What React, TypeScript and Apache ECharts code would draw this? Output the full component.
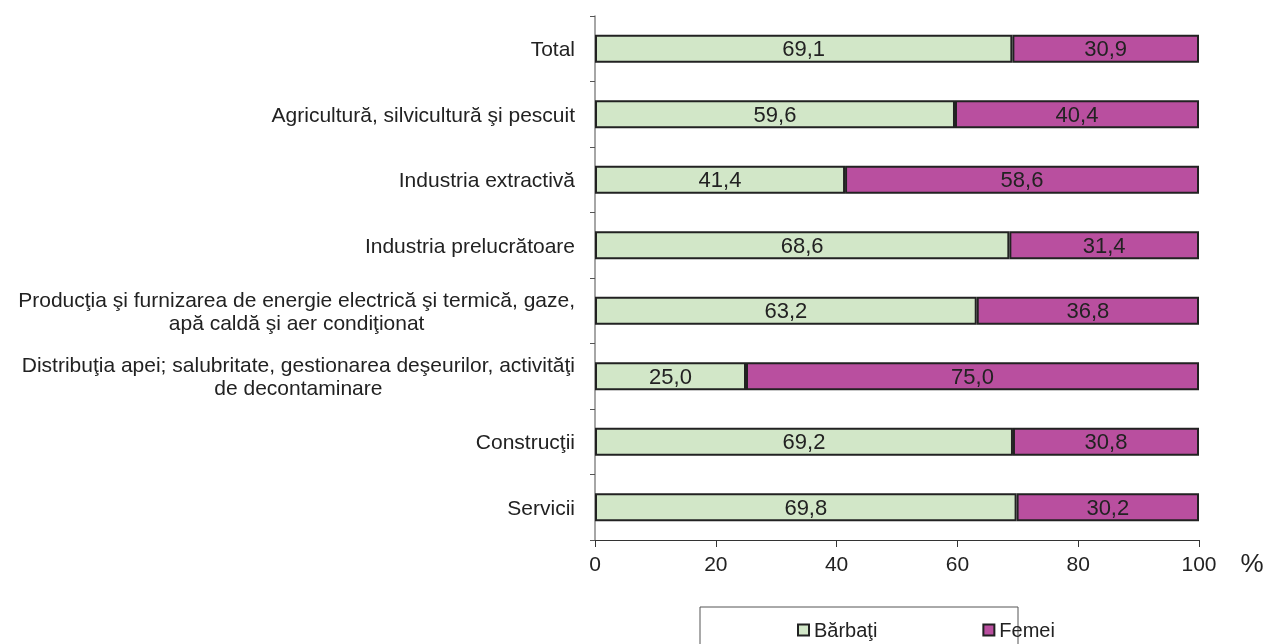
import React, { useEffect, useRef } from "react";
import * as echarts from "echarts";

const categories = [
  "Total",
  "Agricultură, silvicultură şi pescuit",
  "Industria extractivă",
  "Industria prelucrătoare",
  "Producţia şi furnizarea de energie electrică şi termică, gaze,\napă caldă şi aer condiţionat",
  "Distribuţia apei; salubritate, gestionarea deşeurilor, activităţi\nde decontaminare",
  "Construcţii",
  "Servicii",
];
const barbati = [69.1, 59.6, 41.4, 68.6, 63.2, 25.0, 69.2, 69.8];
const femei = [30.9, 40.4, 58.6, 31.4, 36.8, 75.0, 30.8, 30.2];
const seriesNames = ["Bărbaţi", "Femei"];

const FONT = "Liberation Sans, Arial, sans-serif";
const TXT = "#222";

export default function App() {
  const ref = useRef<HTMLDivElement>(null);
  useEffect(() => {
    if (!ref.current) return;
    const chart = echarts.init(ref.current, null, { renderer: "svg" });
    const fmt = (p: any) => Number(p.value).toFixed(1).replace(".", ",");
    const barCommon = {
      type: "bar",
      stack: "total",
      barCategoryGap: "57%",
      label: {
        show: true,
        position: "inside",
        formatter: fmt,
        fontSize: 22,
        fontFamily: FONT,
        color: TXT,
      },
    };
    chart.setOption({
      animation: false,
      textStyle: { fontFamily: FONT },
      grid: { left: 595, right: 68, top: 16, bottom: 104, containLabel: false },
      legend: {
        left: 797,
        top: 620,
        padding: 0,
        itemWidth: 11,
        itemHeight: 11,
        itemGap: 105,
        icon: "rect",
        itemStyle: { borderColor: "#222", borderWidth: 2 },
        textStyle: { fontSize: 20, lineHeight: 20, color: TXT, fontFamily: FONT },
        data: seriesNames,
      },
      xAxis: {
        type: "value",
        min: 0,
        max: 100,
        interval: 20,
        axisLine: { show: true, lineStyle: { color: "#333", width: 1 } },
        axisTick: { show: true, length: 7, lineStyle: { color: "#333" } },
        splitLine: { show: false },
        axisLabel: { fontSize: 21, margin: 13, color: TXT, fontFamily: FONT },
      },
      yAxis: {
        type: "category",
        inverse: true,
        data: categories,
        axisLine: { show: true, lineStyle: { color: "#888", width: 1.5 } },
        axisTick: { show: true, length: 5, lineStyle: { color: "#555" } },
        axisLabel: {
          margin: 20,
          color: TXT,
          fontSize: 21,
          fontFamily: FONT,
          lineHeight: 23,
          formatter: (v: string) =>
            v
              .split("\n")
              .map((l) => `{c|${l}}`)
              .join("\n"),
          rich: {
            c: { align: "center", fontSize: 21, lineHeight: 23, fontFamily: FONT, color: TXT },
          },
        },
      },
      graphic: [
        {
          type: "rect",
          shape: { x: 700, y: 607, width: 318, height: 60 },
          style: { fill: "none", stroke: "#555", lineWidth: 1 },
          silent: true,
        },
        {
          type: "text",
          x: 1252,
          y: 563,
          style: {
            text: "%",
            fontSize: 26,
            fontFamily: FONT,
            fill: TXT,
            align: "center",
            verticalAlign: "middle",
          },
        },
      ],
      series: [
        {
          ...barCommon,
          name: seriesNames[0],
          data: barbati,
          itemStyle: { color: "#d2e7c8", borderColor: "#222", borderWidth: 2 },
        },
        {
          ...barCommon,
          name: seriesNames[1],
          data: femei,
          itemStyle: { color: "#b94f9f", borderColor: "#222", borderWidth: 2 },
        },
      ],
    });
    return () => chart.dispose();
  }, []);
  return (
    <div
      ref={ref}
      style={{ position: "fixed", left: 0, top: 0, width: 1267, height: 644 }}
    />
  );
}
